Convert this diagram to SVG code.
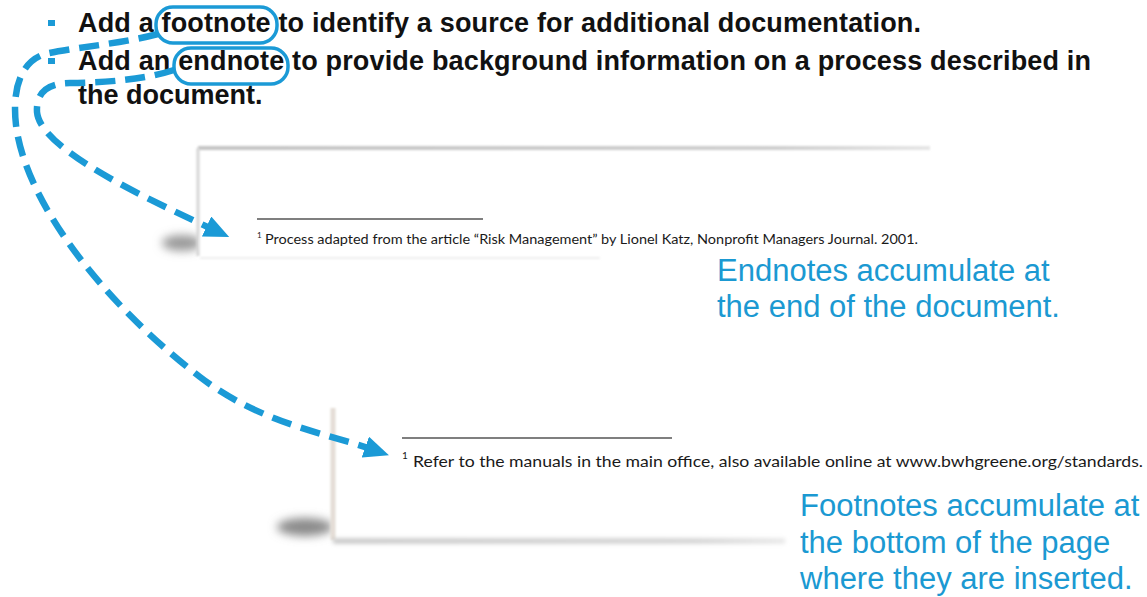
<svg xmlns="http://www.w3.org/2000/svg" width="1147" height="597" viewBox="0 0 1147 597">
  <style>
    .title { font-family: "Liberation Sans", Arial, sans-serif; font-weight: bold; font-size: 27px; fill: #111; }
    .label { font-family: "Liberation Sans", Arial, sans-serif; font-size: 31px; fill: #1b99d2; }
    .doc { font-family: Lato, "Liberation Sans", sans-serif; fill: #1a1a1a; }
    .oval { fill: none; stroke: #1b9ad6; stroke-width: 3.5; }
    .conn { fill: none; stroke: #1b9ad6; stroke-width: 6.5; stroke-dasharray: 20 10; }
    .bullet { fill: #1b9ad6; }
    .rule { stroke: #555; stroke-width: 1.3; }
  </style>
  <defs>
    <marker id="arrow" markerUnits="userSpaceOnUse" markerWidth="26" markerHeight="22" refX="6" refY="11" orient="auto">
      <path d="M0,0 L25,11 L0,22 z" fill="#1b9ad6"/>
    </marker>
    <filter id="b1" filterUnits="userSpaceOnUse" x="0" y="0" width="1147" height="597"><feGaussianBlur stdDeviation="1.2"/></filter>
    <filter id="b2" filterUnits="userSpaceOnUse" x="0" y="0" width="1147" height="597"><feGaussianBlur stdDeviation="2"/></filter>
    <filter id="b5" filterUnits="userSpaceOnUse" x="0" y="0" width="1147" height="597"><feGaussianBlur stdDeviation="5"/></filter>
    <linearGradient id="fadeR" x1="0" y1="0" x2="1" y2="0">
      <stop offset="0" stop-color="#c4c4c4"/>
      <stop offset="0.8" stop-color="#cfcfcf"/>
      <stop offset="1" stop-color="#e6e6e6"/>
    </linearGradient>
  </defs>
  <rect width="1147" height="597" fill="#ffffff"/>

  <g id="bullets">
    <rect class="bullet" x="48" y="20" width="7" height="6"/>
    <rect class="bullet" x="48" y="58" width="7" height="6"/>
    <text class="title" x="78" y="32" textLength="843" lengthAdjust="spacing">Add a footnote to identify a source for additional documentation.</text>
    <text class="title" x="78" y="70" textLength="1013" lengthAdjust="spacing">Add an endnote to provide background information on a process described in</text>
    <text class="title" x="78" y="104">the document.</text>
  </g>

  <g id="footnote-oval">
    <rect class="oval" x="156" y="7" width="121" height="36" rx="17"/>
  </g>
  <g id="endnote-oval">
    <rect class="oval" x="174" y="48" width="114" height="36" rx="17"/>
  </g>

  <g id="endnote-page">
    <ellipse cx="182" cy="243" rx="20" ry="8" fill="#9a9a9a" filter="url(#b5)"/>
    <rect x="198" y="148" width="732" height="110" fill="#ffffff"/>
    <rect x="198" y="146" width="732" height="4" fill="url(#fadeR)" filter="url(#b1)"/>
    <rect x="196.5" y="148" width="3" height="108" fill="#d6d6d6" filter="url(#b1)"/>
    <rect x="200" y="257" width="400" height="2" fill="#eeeeee" filter="url(#b1)"/>
    <line class="rule" x1="257" y1="219" x2="483" y2="219"/>
    <text class="doc" x="257" y="238" font-size="8">1</text>
    <text class="doc" x="265" y="244" font-size="13.5" textLength="653" lengthAdjust="spacingAndGlyphs">Process adapted from the article “Risk Management” by Lionel Katz, Nonprofit Managers Journal. 2001.</text>
  </g>

  <g id="footnote-page">
    <ellipse cx="305" cy="527" rx="28" ry="9" fill="#8a8a8a" filter="url(#b5)"/>
    <rect x="333" y="408" width="800" height="133" fill="#ffffff"/>
    <rect x="330.5" y="408" width="5" height="132" fill="#e4ddd6" filter="url(#b1)"/>
    <rect x="333" y="538.5" width="452" height="5" fill="url(#fadeR)" filter="url(#b2)"/>
    <line class="rule" x1="402" y1="438" x2="672" y2="438"/>
    <text class="doc" x="402" y="459" font-size="10">1</text>
    <text class="doc" x="413" y="467" font-size="16" textLength="730" lengthAdjust="spacingAndGlyphs">Refer to the manuals in the main office, also available online at www.bwhgreene.org/standards.</text>
  </g>

  <g id="endnote-label">
    <text class="label" x="717" y="281">Endnotes accumulate at</text>
    <text class="label" x="717" y="317">the end of the document.</text>
  </g>

  <g id="footnote-label">
    <text class="label" x="800" y="516">Footnotes accumulate at</text>
    <text class="label" x="800" y="553">the bottom of the page</text>
    <text class="label" x="800" y="589">where they are inserted.</text>
  </g>

  <g id="connectors">
    <path class="conn" d="M 158 34 C 120 44, 70 48, 45 54 C 20 62, 12 90, 16 125 C 25 200, 100 300, 200 377 C 260 423, 325 433, 371 449" marker-end="url(#arrow)"/>
    <path class="conn" d="M 174 70 C 150 78, 110 83, 70 83 C 45 83, 36 95, 37 112 C 40 150, 150 200, 212 229" marker-end="url(#arrow)"/>
  </g>
</svg>
